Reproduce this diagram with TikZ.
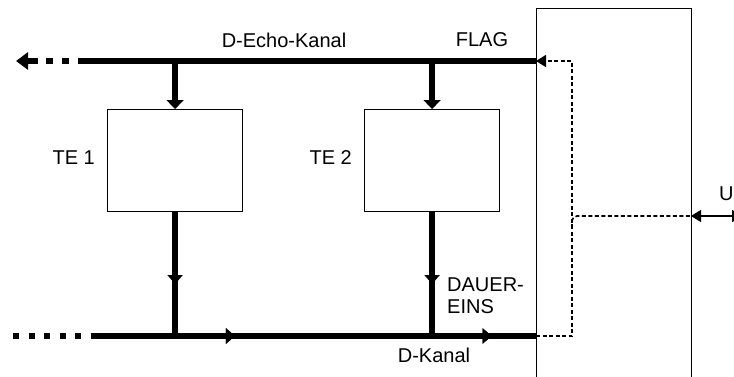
\documentclass[tikz,border=0pt]{standalone}
\usepackage{fontspec}
\setmainfont{Liberation Sans}
\usetikzlibrary{arrows.meta, positioning, decorations.markings}

\tikzset{
  bus/.style={line width=6pt, line cap=butt},
  sig/.style={line width=1.6pt, dash pattern=on 4pt off 2.5pt},
  tebox/.style={draw, line width=1.2pt, minimum width=135pt, minimum height=102pt, inner sep=0pt},
  ntbox/.style={draw, line width=1.2pt, minimum width=155pt, minimum height=390pt, inner sep=0pt},
  lbl/.style={font=\fontsize{20}{22}\selectfont, inner sep=0pt},
  bigtip/.style={-{Triangle[length=9pt,width=17pt]}},
  smalltip/.style={-{Triangle[length=10pt,width=12pt]}},
  midtip/.style={postaction={decorate}, decoration={markings,
      mark=at position #1 with {\arrow{Triangle[length=9pt,width=15pt]}}}},
}

\begin{document}
\begin{tikzpicture}[x=1pt, y=-1pt]
  \useasboundingbox (0,0) rectangle (734,376);

  % terminals and network termination
  \foreach \x/\name/\lab in {107/te1/TE 1, 364/te2/TE 2} {
    \node[tebox, anchor=north west] (\name) at (\x,109) {};
    \node[lbl, left=12pt of \name, yshift=3pt] (\name lbl) {\lab};
  }
  \node[ntbox, anchor=north west] (nt) at (536,8) {};

  % bus end points
  \coordinate (echoL) at (78,61);
  \coordinate (echoR) at (536,61);
  \coordinate (echoDash) at (69,61);
  \coordinate (echoTip) at (16,61);
  \coordinate (dkL) at (92,336);
  \coordinate (dkR) at (536,336);
  \coordinate (dkDots) at (13,336);
  \coordinate (loopX) at (572,61);
  \coordinate (uIn) at (691,216);
  \coordinate (uOut) at (742,216);

  % D-Echo channel
  \draw[bus] (echoL) -- (echoR);
  \draw[bus, dash pattern=on 7pt off 9pt on 7pt off 8pt on 40pt,
        -{Triangle[length=12pt,width=17pt]}] (echoDash) -- (echoTip);
  \draw[bus, bigtip] (echoL -| te1.north) -- (te1.north);
  \draw[bus, bigtip] (echoL -| te2.north) -- (te2.north);

  % D channel
  \draw[bus, dash pattern=on 6pt off 9.5pt] (dkDots) -- (dkL);
  \draw[bus, midtip=0.322, midtip=0.9] (dkL) -- (dkR);
  \draw[bus, midtip=0.58] (te1.south) -- (te1.south |- dkL);
  \draw[bus, midtip=0.58] (te2.south) -- (te2.south |- dkL);

  % echo loop inside NT
  \draw[sig, smalltip] (dkR) -- (dkR -| loopX) -- (loopX) -- (echoR);
  \draw[sig, rounded corners=5pt] (loopX |- 0,228) |- (uIn);
  \draw[line width=1.3pt, {Triangle[length=10pt,width=12pt]}-{Triangle[length=10pt,width=12pt]}] (uIn) -- (uOut);

  % labels
  \node[lbl] (echolbl) at (284,40) {D-Echo-Kanal};
  \node[lbl] (flaglbl) at (482,40) {FLAG};
  \node[lbl, anchor=north west, align=left] (dauerlbl) at (447,278) {DAUER-\\EINS};
  \node[lbl] (dklbl) at (434,355) {D-Kanal};
  \node[lbl, anchor=west] (ulbl) at (719,194) {U};
\end{tikzpicture}
\end{document}
